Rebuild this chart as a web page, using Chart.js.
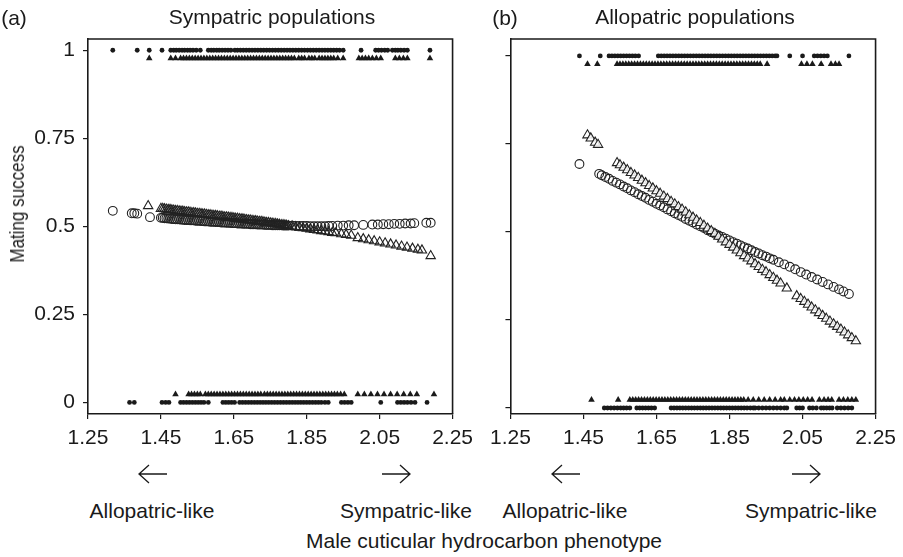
<!DOCTYPE html>
<html>
<head>
<meta charset="utf-8">
<script src="https://cdn.jsdelivr.net/npm/chart.js@4.4.1/dist/chart.umd.min.js"></script>
<style>
  html, body { margin: 0; padding: 0; background: #fff; }
  #wrap { position: relative; width: 903px; height: 557px; overflow: hidden;
          font-family: "Liberation Sans", Arial, sans-serif; color: #1a1a1a; }
  canvas { position: absolute; top: 0; }
  .lbl { position: absolute; white-space: nowrap; transform: translate(-50%, -50%);
         font-size: 21px; line-height: 1; }
  .ytitle { font-size: 20px; transform: translate(-50%, -50%) rotate(-90deg) scaleX(0.85); }
  svg.arrow { position: absolute; top: 463px; overflow: visible; }
  svg.arrow path { fill: none; stroke: #1a1a1a; stroke-width: 1.3; }
</style>
</head>
<body>
<div id="wrap">
  <canvas id="chartA" width="480" height="460" style="left:0;width:480px;height:460px"></canvas>
  <canvas id="chartB" width="420" height="460" style="left:483px;width:420px;height:460px"></canvas>

  <div class="lbl" style="left:14px;top:17px">(a)</div>
  <div class="lbl" style="left:272px;top:16px">Sympatric populations</div>
  <div class="lbl" style="left:505px;top:17px">(b)</div>
  <div class="lbl" style="left:695px;top:16px">Allopatric populations</div>
  <div class="lbl ytitle" style="left:17px;top:204px">Mating success</div>

  <svg class="arrow" style="left:138px" width="30" height="22"><path d="M29 11 H1 M11 2 L1 11 L11 20"/></svg>
  <svg class="arrow" style="left:381px" width="30" height="22"><path d="M1 11 H29 M19 2 L29 11 L19 20"/></svg>
  <svg class="arrow" style="left:551px" width="30" height="22"><path d="M29 11 H1 M11 2 L1 11 L11 20"/></svg>
  <svg class="arrow" style="left:791px" width="30" height="22"><path d="M1 11 H29 M19 2 L29 11 L19 20"/></svg>

  <div class="lbl" style="left:152px;top:510px">Allopatric-like</div>
  <div class="lbl" style="left:406px;top:510px">Sympatric-like</div>
  <div class="lbl" style="left:565px;top:510px">Allopatric-like</div>
  <div class="lbl" style="left:811px;top:510px">Sympatric-like</div>
  <div class="lbl" style="left:484px;top:540px">Male cuticular hydrocarbon phenotype</div>
</div>

<script>
// axis ticks
const ticksX = [1.25, 1.45, 1.65, 1.85, 2.05, 2.25];
const ticksY = [0, 0.25, 0.5, 0.75, 1];

// observed mating outcome rows (1 = mated, 0 = not); triangles sit just inside the dots
const rowTop = 1;
const rowTopTri = 0.977;
const rowBotTri = 0.023;
const rowBot = 0;

// (a) sympatric populations
const aDotTopX = [1.318, 1.385, 1.418, 1.453, 1.477, 1.485, 1.492, 1.50, 1.508, 1.515, 1.523, 1.53, 1.538, 1.547,
  1.558, 1.58, 1.588, 1.595, 1.603, 1.61, 1.618, 1.626, 1.634, 1.642, 1.653, 1.66, 1.668, 1.676, 1.684, 1.692,
  1.70, 1.708, 1.716, 1.724, 1.732, 1.74, 1.748, 1.756, 1.764, 1.772, 1.78, 1.788, 1.796, 1.804, 1.812, 1.82,
  1.828, 1.836, 1.844, 1.852, 1.86, 1.868, 1.876, 1.884, 1.892, 1.90, 1.908, 1.916, 1.924, 1.932, 1.94, 1.95,
  1.999, 2.039, 2.047, 2.055, 2.064, 2.072, 2.085, 2.093, 2.10, 2.108, 2.117, 2.126, 2.188];
const aTriTopX = [1.418, 1.477, 1.49, 1.504, 1.512, 1.52, 1.528, 1.536, 1.544, 1.552, 1.56, 1.568, 1.576, 1.584,
  1.592, 1.60, 1.608, 1.616, 1.624, 1.632, 1.64, 1.648, 1.656, 1.664, 1.672, 1.68, 1.688, 1.696, 1.704, 1.712,
  1.72, 1.728, 1.736, 1.744, 1.752, 1.76, 1.768, 1.776, 1.784, 1.792, 1.80, 1.808, 1.816, 1.828, 1.836, 1.844,
  1.856, 1.864, 1.872, 1.884, 1.892, 1.90, 1.908, 1.916, 1.924, 1.935, 1.95, 1.993, 2.002, 2.011, 2.02, 2.03,
  2.041, 2.053, 2.093, 2.104, 2.115, 2.126, 2.188];
const aTriBotX = [1.49, 1.526, 1.534, 1.542, 1.55, 1.558, 1.572, 1.58, 1.588, 1.596, 1.604, 1.612, 1.62, 1.628,
  1.636, 1.644, 1.652, 1.66, 1.668, 1.676, 1.684, 1.692, 1.70, 1.708, 1.716, 1.724, 1.734, 1.742, 1.75, 1.758,
  1.766, 1.774, 1.782, 1.79, 1.798, 1.806, 1.814, 1.822, 1.83, 1.838, 1.846, 1.854, 1.862, 1.87, 1.878, 1.886,
  1.894, 1.902, 1.91, 1.918, 1.926, 1.934, 1.943, 1.953, 1.99, 2.008, 2.026, 2.044, 2.062, 2.08, 2.098, 2.116,
  2.134, 2.152, 2.199];
const aDotBotX = [1.364, 1.377, 1.453, 1.463, 1.472, 1.504, 1.512, 1.52, 1.528, 1.536, 1.544, 1.552, 1.56, 1.568,
  1.58, 1.62, 1.628, 1.636, 1.644, 1.652, 1.666, 1.674, 1.682, 1.69, 1.698, 1.706, 1.714, 1.722, 1.73, 1.738,
  1.746, 1.754, 1.762, 1.77, 1.778, 1.786, 1.794, 1.802, 1.81, 1.818, 1.826, 1.834, 1.842, 1.85, 1.858, 1.866,
  1.874, 1.882, 1.89, 1.9, 1.909, 1.945, 1.954, 1.963, 1.972, 2.053, 2.099, 2.108, 2.117, 2.126, 2.136, 2.147,
  2.18];
// predicted mating success, open symbols
const aCircX = [1.318, 1.37, 1.377, 1.385, 1.42, 1.45, 1.455, 1.46, 1.465, 1.47, 1.475, 1.48, 1.485, 1.49, 1.495,
  1.50, 1.505, 1.51, 1.515, 1.52, 1.525, 1.53, 1.535, 1.54, 1.545, 1.55, 1.555, 1.56, 1.565, 1.57, 1.575, 1.58,
  1.585, 1.59, 1.595, 1.60, 1.605, 1.61, 1.615, 1.62, 1.625, 1.63, 1.635, 1.64, 1.645, 1.65, 1.655, 1.66, 1.665,
  1.67, 1.675, 1.68, 1.685, 1.69, 1.695, 1.70, 1.705, 1.71, 1.715, 1.72, 1.725, 1.73, 1.735, 1.74, 1.745, 1.75,
  1.755, 1.76, 1.765, 1.77, 1.775, 1.78, 1.785, 1.79, 1.795, 1.80, 1.81, 1.82, 1.83, 1.84, 1.85, 1.86, 1.87, 1.88,
  1.89, 1.90, 1.91, 1.92, 1.935, 1.95, 1.965, 1.98, 2.005, 2.03, 2.045, 2.06, 2.075, 2.09, 2.105, 2.12, 2.135,
  2.145, 2.178, 2.19];
const aCircY = [0.544, 0.537, 0.537, 0.536, 0.526, 0.524, 0.524, 0.523, 0.523, 0.522, 0.522, 0.521, 0.521, 0.52,
  0.52, 0.52, 0.519, 0.519, 0.518, 0.518, 0.518, 0.517, 0.517, 0.517, 0.516, 0.516, 0.516, 0.515, 0.515, 0.514,
  0.514, 0.514, 0.513, 0.513, 0.513, 0.512, 0.512, 0.512, 0.511, 0.511, 0.511, 0.51, 0.51, 0.51, 0.509, 0.509,
  0.509, 0.508, 0.508, 0.508, 0.507, 0.507, 0.507, 0.507, 0.506, 0.506, 0.506, 0.506, 0.505, 0.505, 0.505, 0.505,
  0.504, 0.504, 0.504, 0.504, 0.503, 0.503, 0.503, 0.503, 0.503, 0.503, 0.502, 0.502, 0.502, 0.502, 0.502, 0.501,
  0.501, 0.501, 0.501, 0.5, 0.5, 0.5, 0.5, 0.5, 0.501, 0.501, 0.502, 0.502, 0.503, 0.503, 0.504, 0.505, 0.505,
  0.506, 0.506, 0.507, 0.507, 0.508, 0.508, 0.509, 0.51, 0.51];
const aTriX = [1.415, 1.45, 1.455, 1.46, 1.465, 1.47, 1.475, 1.48, 1.485, 1.49, 1.495, 1.50, 1.505, 1.51, 1.515,
  1.52, 1.525, 1.53, 1.535, 1.54, 1.545, 1.55, 1.555, 1.56, 1.565, 1.57, 1.575, 1.58, 1.585, 1.59, 1.595, 1.60,
  1.605, 1.61, 1.615, 1.62, 1.625, 1.63, 1.635, 1.64, 1.645, 1.65, 1.655, 1.66, 1.665, 1.67, 1.675, 1.68, 1.685,
  1.69, 1.695, 1.70, 1.705, 1.71, 1.715, 1.72, 1.725, 1.73, 1.735, 1.74, 1.745, 1.75, 1.755, 1.76, 1.765, 1.77,
  1.775, 1.78, 1.785, 1.79, 1.795, 1.80, 1.81, 1.82, 1.83, 1.84, 1.85, 1.86, 1.87, 1.88, 1.89, 1.90, 1.91, 1.92,
  1.93, 1.945, 1.958, 1.972, 1.99, 2.005, 2.02, 2.035, 2.05, 2.065, 2.08, 2.095, 2.11, 2.125, 2.14, 2.155, 2.166,
  2.19];
const aTriY = [0.558, 0.55, 0.55, 0.549, 0.548, 0.547, 0.547, 0.546, 0.545, 0.544, 0.544, 0.543, 0.542, 0.542,
  0.541, 0.54, 0.54, 0.539, 0.538, 0.538, 0.537, 0.536, 0.536, 0.535, 0.534, 0.534, 0.533, 0.532, 0.532, 0.531,
  0.53, 0.53, 0.529, 0.528, 0.528, 0.527, 0.526, 0.526, 0.525, 0.524, 0.524, 0.523, 0.522, 0.522, 0.521, 0.52,
  0.52, 0.519, 0.518, 0.517, 0.517, 0.516, 0.515, 0.515, 0.514, 0.513, 0.513, 0.512, 0.511, 0.51, 0.51, 0.509,
  0.508, 0.507, 0.507, 0.506, 0.505, 0.504, 0.504, 0.503, 0.502, 0.501, 0.5, 0.498, 0.497, 0.495, 0.494, 0.492,
  0.49, 0.489, 0.487, 0.486, 0.484, 0.482, 0.481, 0.478, 0.476, 0.474, 0.467, 0.464, 0.461, 0.458, 0.455, 0.452,
  0.449, 0.446, 0.443, 0.44, 0.437, 0.434, 0.432, 0.416];

// (b) allopatric populations
const bDotTopX = [1.439, 1.496, 1.52, 1.528, 1.536, 1.544, 1.552, 1.56, 1.568, 1.576, 1.584, 1.592, 1.601, 1.655,
  1.663, 1.671, 1.679, 1.687, 1.695, 1.703, 1.711, 1.719, 1.727, 1.735, 1.743, 1.751, 1.759, 1.767, 1.775, 1.783,
  1.791, 1.799, 1.807, 1.815, 1.823, 1.831, 1.839, 1.847, 1.855, 1.863, 1.871, 1.879, 1.887, 1.895, 1.903, 1.911,
  1.919, 1.927, 1.935, 1.943, 1.951, 1.959, 1.967, 1.975, 1.98, 2.015, 2.05, 2.082, 2.091, 2.1, 2.109, 2.118,
  2.177];
const bTriTopX = [1.461, 1.488, 1.542, 1.55, 1.558, 1.566, 1.574, 1.582, 1.59, 1.598, 1.606, 1.614, 1.622, 1.63,
  1.638, 1.646, 1.654, 1.662, 1.67, 1.678, 1.686, 1.694, 1.702, 1.71, 1.718, 1.726, 1.734, 1.742, 1.75, 1.758,
  1.766, 1.774, 1.782, 1.79, 1.798, 1.806, 1.814, 1.822, 1.83, 1.838, 1.846, 1.854, 1.862, 1.87, 1.878, 1.886,
  1.894, 1.902, 1.91, 1.918, 1.926, 1.934, 1.953, 2.047, 2.062, 2.077, 2.101, 2.128, 2.14, 2.15];
const bTriBotX = [1.472, 1.545, 1.577, 1.585, 1.593, 1.601, 1.609, 1.617, 1.625, 1.633, 1.641, 1.649, 1.657, 1.665,
  1.673, 1.681, 1.689, 1.697, 1.705, 1.713, 1.721, 1.729, 1.737, 1.745, 1.753, 1.761, 1.769, 1.777, 1.785, 1.793,
  1.801, 1.809, 1.817, 1.825, 1.833, 1.841, 1.849, 1.857, 1.865, 1.873, 1.881, 1.889, 1.901, 1.915, 1.93, 1.945,
  1.96, 1.975, 1.99, 2.0, 2.015, 2.028, 2.04, 2.052, 2.064, 2.076, 2.096, 2.109, 2.12, 2.13, 2.15, 2.162, 2.174,
  2.185, 2.196];
const bDotBotX = [1.507, 1.516, 1.525, 1.534, 1.543, 1.552, 1.56, 1.568, 1.577, 1.596, 1.604, 1.612, 1.62, 1.628,
  1.636, 1.645, 1.69, 1.698, 1.706, 1.714, 1.722, 1.73, 1.738, 1.746, 1.754, 1.762, 1.77, 1.778, 1.786, 1.794,
  1.802, 1.81, 1.818, 1.826, 1.834, 1.842, 1.85, 1.858, 1.866, 1.874, 1.882, 1.89, 1.898, 1.907, 1.915, 1.92,
  1.93, 1.94, 1.95, 1.96, 1.97, 1.98, 1.99, 2.0, 2.007, 2.034, 2.042, 2.05, 2.069, 2.078, 2.088, 2.101, 2.108,
  2.116, 2.124, 2.131, 2.145, 2.155, 2.165, 2.175, 2.185];
const bCircX = [1.439, 1.493, 1.50, 1.51, 1.52, 1.53, 1.54, 1.55, 1.56, 1.57, 1.58, 1.59, 1.60, 1.61, 1.62, 1.63,
  1.64, 1.65, 1.66, 1.67, 1.68, 1.69, 1.70, 1.71, 1.72, 1.73, 1.74, 1.75, 1.76, 1.77, 1.78, 1.79, 1.80, 1.81,
  1.82, 1.83, 1.84, 1.85, 1.86, 1.87, 1.88, 1.89, 1.90, 1.91, 1.92, 1.93, 1.94, 1.95, 1.96, 1.97, 1.985, 2.0,
  2.015, 2.03, 2.045, 2.06, 2.075, 2.09, 2.105, 2.12, 2.135, 2.15, 2.162, 2.177];
const bCircY = [0.693, 0.665, 0.661, 0.656, 0.651, 0.645, 0.64, 0.635, 0.629, 0.624, 0.618, 0.613, 0.607, 0.602,
  0.597, 0.591, 0.586, 0.58, 0.575, 0.57, 0.564, 0.559, 0.553, 0.548, 0.543, 0.537, 0.532, 0.527, 0.521, 0.516,
  0.511, 0.505, 0.5, 0.495, 0.49, 0.486, 0.481, 0.476, 0.471, 0.467, 0.462, 0.457, 0.453, 0.448, 0.443, 0.439,
  0.434, 0.43, 0.425, 0.421, 0.414, 0.408, 0.401, 0.394, 0.386, 0.379, 0.372, 0.365, 0.358, 0.351, 0.344, 0.337,
  0.331, 0.324];
const bTriX = [1.461, 1.47, 1.482, 1.49, 1.542, 1.55, 1.56, 1.57, 1.58, 1.59, 1.60, 1.61, 1.62, 1.63, 1.64, 1.65,
  1.66, 1.67, 1.68, 1.69, 1.70, 1.71, 1.72, 1.73, 1.74, 1.75, 1.76, 1.77, 1.78, 1.79, 1.80, 1.81, 1.82, 1.83,
  1.84, 1.85, 1.86, 1.87, 1.88, 1.89, 1.90, 1.91, 1.92, 1.93, 1.94, 1.95, 1.96, 1.97, 1.98, 1.99, 2.007, 2.034,
  2.045, 2.055, 2.065, 2.075, 2.085, 2.095, 2.105, 2.115, 2.125, 2.135, 2.145, 2.155, 2.165, 2.175, 2.185, 2.196];
const bTriY = [0.775, 0.766, 0.754, 0.748, 0.696, 0.69, 0.683, 0.676, 0.668, 0.661, 0.654, 0.646, 0.639, 0.631,
  0.624, 0.616, 0.609, 0.601, 0.594, 0.586, 0.579, 0.571, 0.564, 0.556, 0.548, 0.541, 0.533, 0.526, 0.518, 0.51,
  0.503, 0.495, 0.487, 0.479, 0.471, 0.464, 0.456, 0.448, 0.44, 0.432, 0.425, 0.417, 0.409, 0.401, 0.393, 0.386,
  0.378, 0.37, 0.362, 0.354, 0.34, 0.318, 0.31, 0.302, 0.294, 0.286, 0.278, 0.27, 0.262, 0.254, 0.246, 0.238,
  0.231, 0.223, 0.215, 0.207, 0.199, 0.19];

const ink = '#1a1a1a';
const tickFont = { family: '"Liberation Sans", Arial, sans-serif', size: 21 };

function pts(xs, ys) {
  return xs.map((x, i) => ({ x: x, y: Array.isArray(ys) ? ys[i] : ys }));
}

function dotSet(xs, y) {
  return { data: pts(xs, y), pointStyle: 'circle', pointRadius: 2.4, backgroundColor: ink, borderWidth: 0 };
}
function triSet(xs, y) {
  return { data: pts(xs, y), pointStyle: 'triangle', pointRadius: 3.8, backgroundColor: ink, borderWidth: 0 };
}
function openSet(xs, ys, style, r, fill) {
  return { data: pts(xs, ys), pointStyle: style, pointRadius: r, backgroundColor: fill,
           borderColor: '#222', borderWidth: 1.1 };
}

const boxPlugin = {
  id: 'box',
  afterDraw(chart) {
    const { left, top, right, bottom } = chart.chartArea;
    const ctx = chart.ctx;
    ctx.save();
    ctx.strokeStyle = ink;
    ctx.lineWidth = 1.6;
    ctx.beginPath();
    ctx.moveTo(left, top);
    ctx.lineTo(right, top);
    ctx.lineTo(right, bottom);
    ctx.stroke();
    ctx.restore();
  }
};

function makePanel(id, datasets, yMin, yMax, yWidth, padRight, showYLabels) {
  return new Chart(document.getElementById(id), {
    type: 'scatter',
    data: { datasets: datasets },
    options: {
      responsive: false,
      animation: false,
      devicePixelRatio: 1,
      layout: { padding: { left: 0, top: 39, right: padRight, bottom: 0 } },
      plugins: { legend: { display: false }, tooltip: { enabled: false } },
      elements: { point: { hoverRadius: 0 } },
      scales: {
        x: {
          type: 'linear', min: 1.25, max: 2.25,
          afterBuildTicks: s => { s.ticks = ticksX.map(v => ({ value: v })); },
          afterFit: s => { s.height = 46; },
          ticks: { callback: v => v.toFixed(2), font: tickFont, color: ink, padding: 7,
                   maxRotation: 0, autoSkip: false },
          grid: { drawOnChartArea: false, drawTicks: true, tickLength: 5, color: ink, lineWidth: 1.2 },
          border: { display: true, color: ink, width: 1.6 }
        },
        y: {
          type: 'linear', min: yMin, max: yMax,
          afterBuildTicks: s => { s.ticks = ticksY.map(v => ({ value: v })); },
          afterFit: s => { s.width = yWidth; },
          ticks: { display: showYLabels, callback: v => String(v), font: tickFont, color: ink, padding: 8 },
          grid: { drawOnChartArea: false, drawTicks: true, tickLength: 5, color: ink, lineWidth: 1.2 },
          border: { display: true, color: ink, width: 1.6 }
        }
      }
    },
    plugins: [boxPlugin]
  });
}

makePanel('chartA', [
  dotSet(aDotTopX, rowTop),
  triSet(aTriTopX, rowTopTri),
  triSet(aTriBotX, rowBotTri),
  dotSet(aDotBotX, rowBot),
  openSet(aTriX, aTriY, 'triangle', 5.4, 'rgba(255,255,255,0)'),
  openSet(aCircX, aCircY, 'circle', 4.4, 'rgba(255,255,255,0)')
], -0.033, 1.032, 88, 22, true);

makePanel('chartB', [
  dotSet(bDotTopX, rowTop),
  triSet(bTriTopX, rowTopTri),
  triSet(bTriBotX, rowBotTri),
  dotSet(bDotBotX, rowBot),
  openSet(bTriX, bTriY, 'triangle', 5.4, 'rgba(255,255,255,0.85)'),
  openSet(bCircX, bCircY, 'circle', 4.4, 'rgba(255,255,255,0)')
], -0.017, 1.048, 24, 26, false);
</script>
</body>
</html>
